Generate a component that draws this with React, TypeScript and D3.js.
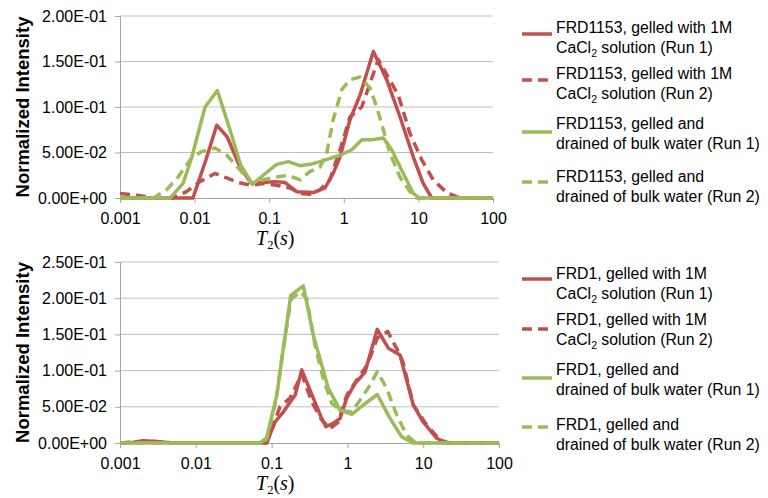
import React, { useRef, useEffect } from "react";
import * as d3 from "d3";

const width = 768;
const height = 498;

const red = "#C0504D";
const green = "#9BBB59";

// shared x axis (T2 in seconds, log scale)
const xTicks = [0.001, 0.01, 0.1, 1, 10, 100];
const xTickLabels = ["0.001", "0.01", "0.1", "1", "10", "100"];

// ---- top panel: FRD1153 ----
const topYTicks = [0, 0.05, 0.1, 0.15, 0.2];
const topYTickLabels = ["0.00E+00", "5.00E-02", "1.00E-01", "1.50E-01", "2.00E-01"];

const frd1153CaT = [0.001, 0.0095, 0.0142, 0.0198, 0.0274, 0.0405, 0.058, 0.083, 0.12, 0.163, 0.234, 0.39, 0.56, 0.72, 0.89, 1.21, 1.65, 2.49, 3.76, 5.67, 8.55, 11.6, 15.1, 100];
const frd1153CaRun1 = [0, 0, 0.042, 0.08, 0.067, 0.034, 0.016, 0.017, 0.018, 0.017, 0.007, 0.006, 0.011, 0.027, 0.045, 0.086, 0.113, 0.161, 0.13, 0.089, 0.045, 0.016, 0, 0];

const frd1153CaT2 = [0.001, 0.00167, 0.0028, 0.0051, 0.0078, 0.0118, 0.0188, 0.0269, 0.0385, 0.058, 0.083, 0.126, 0.19, 0.26, 0.35, 0.48, 0.65, 0.89, 1.21, 1.74, 2.9, 5.38, 7.7, 11.1, 15.8, 23.9, 36, 100];
const frd1153CaRun2 = [0.005, 0.003, 0, 0, 0.007, 0.018, 0.027, 0.022, 0.017, 0.014, 0.016, 0.014, 0.011, 0.005, 0.004, 0.009, 0.02, 0.053, 0.089, 0.1, 0.152, 0.113, 0.071, 0.042, 0.02, 0.006, 0, 0];

const frd1153DrT = [0.001, 0.0047, 0.007, 0.0092, 0.0138, 0.0202, 0.0298, 0.0415, 0.06, 0.083, 0.126, 0.18, 0.259, 0.352, 0.48, 0.89, 1.28, 1.74, 2.37, 3.39, 4.39, 6.28, 8.55, 10.3, 100];
const frd1153DrRun1 = [0, 0, 0.016, 0.045, 0.1, 0.118, 0.075, 0.036, 0.015, 0.025, 0.037, 0.04, 0.0355, 0.037, 0.04, 0.047, 0.053, 0.064, 0.064, 0.066, 0.053, 0.027, 0.005, 0, 0];

const frd1153DrT2 = [0.001, 0.0028, 0.0042, 0.006, 0.0091, 0.0124, 0.0188, 0.027, 0.0385, 0.058, 0.083, 0.126, 0.18, 0.26, 0.35, 0.48, 0.59, 0.72, 0.94, 1.21, 1.65, 2.24, 2.76, 3.39, 4.16, 5.67, 7.7, 9.1, 100];
const frd1153DrRun2 = [0, 0, 0.009, 0.023, 0.044, 0.051, 0.055, 0.047, 0.033, 0.016, 0.02, 0.023, 0.025, 0.02, 0.029, 0.034, 0.049, 0.086, 0.119, 0.13, 0.133, 0.121, 0.1, 0.075, 0.049, 0.023, 0.007, 0, 0];

const topLegend = [
    ["FRD1153, gelled with 1M", "CaCl2 solution (Run 1)"],
    ["FRD1153, gelled with 1M", "CaCl2 solution (Run 2)"],
    ["FRD1153, gelled and", "drained of bulk water (Run 1)"],
    ["FRD1153, gelled and", "drained of bulk water (Run 2)"],
];

// ---- bottom panel: FRD1 ----
const botYTicks = [0, 0.05, 0.1, 0.15, 0.2, 0.25];
const botYTickLabels = ["0.00E+00", "5.00E-02", "1.00E-01", "1.50E-01", "2.00E-01", "2.50E-01"];

const frd1CaT = [0.001, 0.0015, 0.002, 0.003, 0.005, 0.086, 0.111, 0.143, 0.204, 0.25, 0.355, 0.458, 0.52, 0.65, 0.8, 0.98, 1.26, 1.71, 2.48, 3.47, 4.94, 7.4, 10, 15.1, 20.4, 100];
const frd1CaRun1 = [0, 0.001, 0.003, 0.002, 0, 0, 0.029, 0.043, 0.066, 0.101, 0.062, 0.034, 0.0225, 0.027, 0.034, 0.062, 0.082, 0.098, 0.157, 0.131, 0.1215, 0.0525, 0.029, 0.0065, 0, 0];

const frd1CaT2 = [0.001, 0.002, 0.003, 0.005, 0.086, 0.129, 0.175, 0.25, 0.338, 0.458, 0.59, 0.76, 0.98, 1.33, 1.83, 2.48, 3.4, 4.7, 5.4, 7.4, 11.1, 16.7, 22, 100];
const frd1CaRun2 = [0, 0.002, 0.002, 0, 0, 0.05, 0.062, 0.095, 0.057, 0.032, 0.02, 0.029, 0.066, 0.087, 0.108, 0.145, 0.154, 0.126, 0.112, 0.0525, 0.025, 0.004, 0, 0];

const frd1DrT = [0.001, 0.07, 0.086, 0.117, 0.143, 0.179, 0.262, 0.355, 0.56, 0.8, 1.14, 1.62, 2.48, 3.65, 5.2, 7.4, 100];
const frd1DrRun1 = [0, 0, 0.007, 0.066, 0.131, 0.204, 0.217, 0.149, 0.0755, 0.0455, 0.0395, 0.0525, 0.067, 0.034, 0.0087, 0, 0];

const frd1DrT2 = [0.001, 0.07, 0.086, 0.115, 0.14, 0.18, 0.237, 0.29, 0.374, 0.48, 0.62, 0.8, 1.14, 1.53, 1.99, 2.48, 3.3, 4.47, 6.05, 8, 100];
const frd1DrRun2 = [0, 0, 0.005, 0.06, 0.125, 0.198, 0.209, 0.2, 0.135, 0.089, 0.055, 0.0455, 0.043, 0.062, 0.08, 0.0985, 0.0755, 0.0387, 0.011, 0, 0];

const botLegend = [
    ["FRD1, gelled with 1M", "CaCl2 solution (Run 1)"],
    ["FRD1, gelled with 1M", "CaCl2 solution (Run 2)"],
    ["FRD1, gelled and", "drained of bulk water (Run 1)"],
    ["FRD1, gelled and", "drained of bulk water (Run 2)"],
];

const font = "'Liberation Sans', Arial, sans-serif";

const drawPanel = (svg, p) => {
    const x = d3.scaleLog().domain([0.001, 100]).range([p.left, p.right]);
    const y = d3.scaleLinear().domain([0, p.yMax]).range([p.bottom, p.top]);

    // gridlines
    svg.append("g")
        .selectAll("line")
        .data(p.yTicks.filter(d => d > 0))
        .join("line")
        .attr("x1", p.left).attr("x2", p.right)
        .attr("y1", d => y(d)).attr("y2", d => y(d))
        .attr("stroke", "#BFBFBF").attr("stroke-width", 1);

    // y axis
    const yAxis = d3.axisLeft(y).tickValues(p.yTicks).tickSize(5).tickPadding(8)
        .tickFormat((d, i) => p.yLabels[i]);
    svg.append("g")
        .attr("transform", `translate(${p.left},0)`)
        .call(yAxis)
        .call(g => g.select(".domain").attr("stroke", "#A6A6A6"))
        .call(g => g.selectAll(".tick line").attr("stroke", "#A6A6A6"))
        .call(g => g.selectAll("text").attr("font-family", font).attr("font-size", 16).attr("fill", "#000"));

    // x axis
    const xAxis = d3.axisBottom(x).tickValues(xTicks).tickSize(5).tickPadding(10)
        .tickFormat((d, i) => xTickLabels[i]);
    svg.append("g")
        .attr("transform", `translate(0,${p.bottom})`)
        .call(xAxis)
        .call(g => g.select(".domain").attr("stroke", "#A6A6A6"))
        .call(g => g.selectAll(".tick line").attr("stroke", "#A6A6A6"))
        .call(g => g.selectAll("text").attr("font-family", font).attr("font-size", 16).attr("fill", "#000"));

    // series
    const line = d3.line().x(d => x(d[0])).y(d => y(d[1]));
    p.series.forEach(s => {
        svg.append("path")
            .datum(d3.zip(s.t, s.v))
            .attr("d", line)
            .attr("fill", "none")
            .attr("stroke", s.color)
            .attr("stroke-width", 3.5)
            .attr("stroke-linejoin", "round")
            .attr("stroke-dasharray", s.dashed ? "10,6" : null);
    });

    // y title
    svg.append("text")
        .attr("transform", `translate(29,${(p.top + p.bottom) / 2}) rotate(-90)`)
        .attr("text-anchor", "middle")
        .attr("font-family", font)
        .attr("font-weight", "bold")
        .attr("font-size", 18.5)
        .text("Normalized Intensity");

    // x title T2(s)
    const xt = svg.append("text")
        .attr("x", 256)
        .attr("y", p.bottom + 47)
        .attr("font-family", "'Liberation Serif', 'DejaVu Serif', serif")
        .attr("font-size", 20);
    xt.append("tspan").attr("font-style", "italic").text("T");
    xt.append("tspan").attr("font-size", 12.5).attr("dy", 4).text("2");
    xt.append("tspan").attr("dy", -4).text("(");
    xt.append("tspan").attr("font-style", "italic").text("s");
    xt.append("tspan").text(")");

    // legend
    p.series.forEach((s, i) => {
        const ly = p.legendY[i];
        svg.append("line")
            .attr("x1", 522).attr("x2", 552)
            .attr("y1", ly + p.legendLineOff[i]).attr("y2", ly + p.legendLineOff[i])
            .attr("stroke", s.color)
            .attr("stroke-width", 3.5)
            .attr("stroke-dasharray", s.dashed ? "10,6" : null);
        p.legend[i].forEach((txt, j) => {
            const t = svg.append("text")
                .attr("x", 556)
                .attr("y", ly + j * 19.5)
                .attr("font-family", font)
                .attr("font-size", 15.8)
                .attr("fill", "#000");
            if (txt.startsWith("CaCl2")) {
                t.append("tspan").text("CaCl");
                t.append("tspan").attr("font-size", 10.5).attr("dy", 4).text("2");
                t.append("tspan").attr("dy", -4).text(txt.slice(5));
            } else {
                t.text(txt);
            }
        });
    });
};

const App = () => {
    const ref = useRef(null);

    useEffect(() => {
        const svg = d3.select(ref.current);
        svg.selectAll("*").remove();

        drawPanel(svg, {
            left: 120, right: 493, top: 16, bottom: 198, yMax: 0.2,
            yTicks: topYTicks, yLabels: topYTickLabels,
            legend: topLegend,
            legendY: [33, 79, 129, 182],
            legendLineOff: [1, 1, 3, 0],
            series: [
                { t: frd1153CaT, v: frd1153CaRun1, color: red, dashed: false },
                { t: frd1153CaT2, v: frd1153CaRun2, color: red, dashed: true },
                { t: frd1153DrT, v: frd1153DrRun1, color: green, dashed: false },
                { t: frd1153DrT2, v: frd1153DrRun2, color: green, dashed: true },
            ],
        });

        drawPanel(svg, {
            left: 120, right: 499, top: 262, bottom: 443, yMax: 0.25,
            yTicks: botYTicks, yLabels: botYTickLabels,
            legend: botLegend,
            legendY: [279, 325, 375, 430],
            legendLineOff: [0, 4, 3, -3],
            series: [
                { t: frd1CaT, v: frd1CaRun1, color: red, dashed: false },
                { t: frd1CaT2, v: frd1CaRun2, color: red, dashed: true },
                { t: frd1DrT, v: frd1DrRun1, color: green, dashed: false },
                { t: frd1DrT2, v: frd1DrRun2, color: green, dashed: true },
            ],
        });
    }, []);

    return (
        <svg
            ref={ref}
            width={width}
            height={height}
            viewBox={`0 0 ${width} ${height}`}
            style={{ position: "absolute", left: 0, top: 0, background: "#fff" }}
        />
    );
};

export default App;
